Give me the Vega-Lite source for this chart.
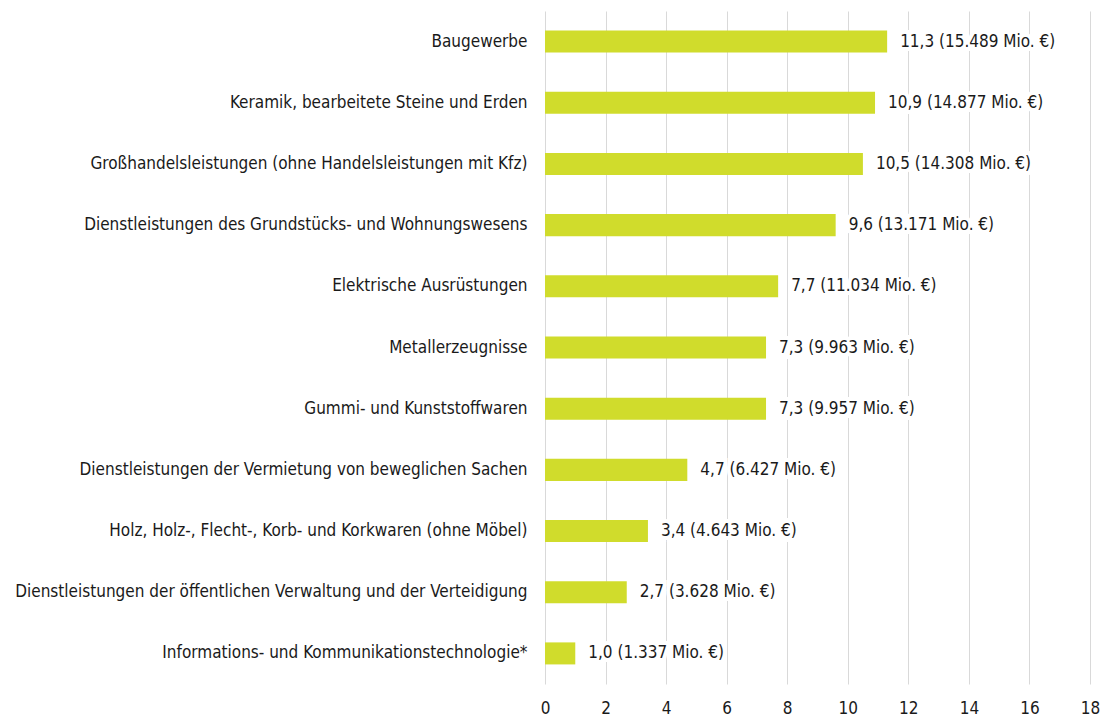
{
  "$schema": "https://vega.github.io/schema/vega-lite/v6.json",
  "width": 545,
  "height": 673,
  "autosize": {"type": "none"},
  "padding": {"left": 545, "top": 11, "right": 11, "bottom": 34},
  "background": "white",
  "config": {
    "view": {"stroke": null},
    "font": "DejaVu Sans Condensed"
  },
  "data": {
    "values": [
      {"kategorie": "Baugewerbe", "wert": 11.3, "label": "11,3 (15.489 Mio. €)"},
      {"kategorie": "Keramik, bearbeitete Steine und Erden", "wert": 10.9, "label": "10,9 (14.877 Mio. €)"},
      {"kategorie": "Großhandelsleistungen (ohne Handelsleistungen mit Kfz)\u00a0", "wert": 10.5, "label": "10,5 (14.308 Mio. €)"},
      {"kategorie": "Dienstleistungen des Grundstücks- und Wohnungswesens\u00a0", "wert": 9.6, "label": "9,6 (13.171 Mio. €)"},
      {"kategorie": "Elektrische Ausrüstungen", "wert": 7.7, "label": "7,7 (11.034 Mio. €)"},
      {"kategorie": "Metallerzeugnisse\u00a0", "wert": 7.3, "label": "7,3 (9.963 Mio. €)"},
      {"kategorie": "Gummi- und Kunststoffwaren", "wert": 7.3, "label": "7,3 (9.957 Mio. €)"},
      {"kategorie": "Dienstleistungen der Vermietung von beweglichen Sachen\u00a0", "wert": 4.7, "label": "4,7 (6.427 Mio. €)"},
      {"kategorie": "Holz, Holz-, Flecht-, Korb- und Korkwaren (ohne Möbel)", "wert": 3.4, "label": "3,4 (4.643 Mio. €)"},
      {"kategorie": "Dienstleistungen der öffentlichen Verwaltung und der Verteidigung", "wert": 2.7, "label": "2,7 (3.628 Mio. €)"},
      {"kategorie": "Informations- und Kommunikationstechnologie*", "wert": 1.0, "label": "1,0 (1.337 Mio. €)"}
    ]
  },
  "encoding": {
    "y": {
      "field": "kategorie",
      "type": "nominal",
      "sort": null,
      "scale": {"paddingInner": 0.64, "paddingOuter": 0.32},
      "axis": {
        "title": null,
        "domain": false,
        "ticks": false,
        "grid": false,
        "labelPadding": 18,
        "labelFontSize": 17,
        "labelColor": "#1a1a1a",
        "labelFont": "DejaVu Sans Condensed",
        "labelLimit": 700
      }
    },
    "x": {
      "field": "wert",
      "type": "quantitative",
      "scale": {"domain": [0, 18], "nice": false},
      "axis": {
        "title": null,
        "values": [0, 2, 4, 6, 8, 10, 12, 14, 16, 18],
        "domain": false,
        "ticks": false,
        "grid": true,
        "gridColor": "#d9d9d9",
        "gridWidth": 1,
        "labelPadding": 16,
        "labelFontSize": 17,
        "labelColor": "#1a1a1a",
        "labelFont": "DejaVu Sans Condensed",
        "labelFlush": false
      }
    }
  },
  "layer": [
    {"mark": {"type": "bar", "color": "#d0dc2c"}},
    {
      "mark": {"type": "text", "align": "left", "baseline": "middle", "dx": 13, "fontSize": 17, "font": "DejaVu Sans Condensed", "stroke": "white", "strokeWidth": 8, "strokeJoin": "miter", "fill": "white"},
      "encoding": {"text": {"field": "label"}}
    },
    {
      "mark": {"type": "text", "align": "left", "baseline": "middle", "dx": 13, "fontSize": 17, "font": "DejaVu Sans Condensed", "color": "#1a1a1a"},
      "encoding": {"text": {"field": "label"}}
    }
  ]
}
